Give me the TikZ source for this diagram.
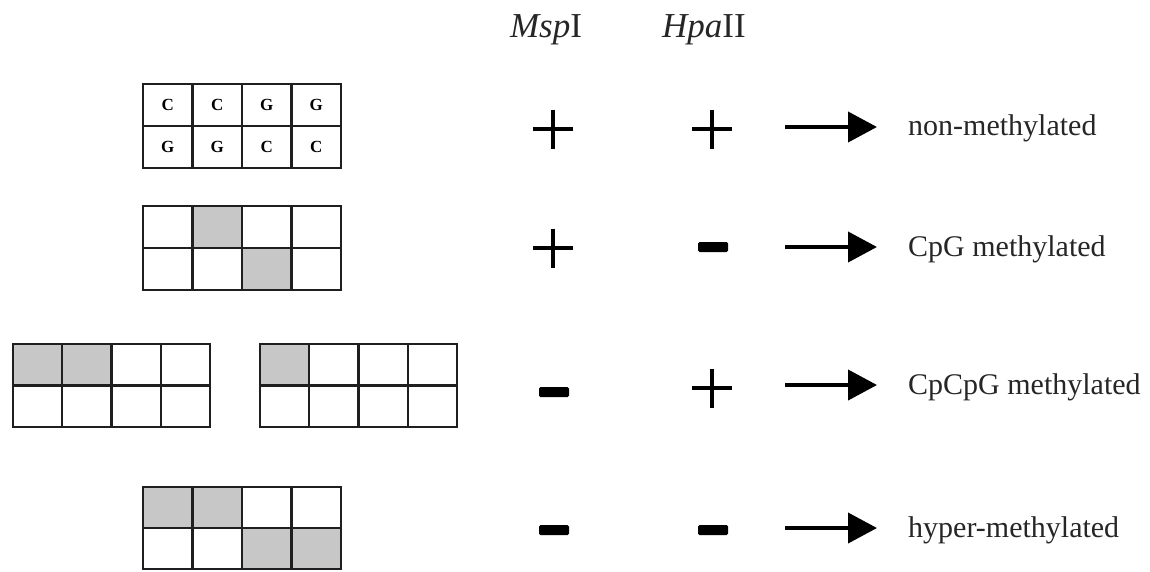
\documentclass[tikz,border=0pt]{standalone}
\usepackage{fontspec}
\setmainfont{Liberation Serif}
\usetikzlibrary{arrows.meta}
\newcommand\dnagrid[4]{% #1=x0 #2=y0 #3=width #4=height
  \draw[cellline] (#1,#2) rectangle ++(#3,#4);
  \foreach \i in {1,2,3} \draw[cellline] ({#1+\i*#3/4},#2) -- ++(0,#4);
  \draw[cellline] (#1,{#2+#4/2}) -- ++(#3,0);
}
\newcommand\plussign[2]{%
  \draw[sign] (#1-20,#2) -- (#1+20,#2);
  \draw[sign] (#1,#2-19.5) -- (#1,#2+19.5);
}
\newcommand\minussign[2]{%
  \fill[minusbar] (#1-15,#2-5) rectangle (#1+15,#2+5);
}
\begin{document}
\begin{tikzpicture}[x=1pt,y=-1pt,
  cellline/.style={line width=2.3pt, draw=black!88},
  meth/.style={fill=black!22},
  sign/.style={line width=4.8pt},
  minusbar/.style={fill=black, rounded corners=1.5pt},
  resarrow/.style={line width=4pt, -{Triangle[length=29pt,width=30pt]}},
  statelabel/.style={anchor=base west, inner sep=0pt, text=black!85, font=\fontsize{30}{36}\selectfont},
  enzyme/.style={anchor=base, inner sep=0pt, text=black!85, font=\fontsize{35}{42}\selectfont},
  nucl/.style={font=\bfseries\fontsize{17}{20}\selectfont, inner sep=0pt}
]
\useasboundingbox (0,0) rectangle (1150,571);

% headers
\node[enzyme] (msp) at (546,37) {\textit{Msp}I};
\node[enzyme] (hpa) at (704,37) {\textit{Hpa}II};

% row 1 grid with bases
\dnagrid{143}{84}{198}{84}
\node[nucl] (b11) at (167.75,105) {C};
\node[nucl] (b12) at (217.25,105) {C};
\node[nucl] (b13) at (266.75,105) {G};
\node[nucl] (b14) at (316.25,105) {G};
\node[nucl] (b21) at (167.75,147) {G};
\node[nucl] (b22) at (217.25,147) {G};
\node[nucl] (b23) at (266.75,147) {C};
\node[nucl] (b24) at (316.25,147) {C};

% row 2 grid
\fill[meth] (192.5,206) rectangle ++(49.5,42);
\fill[meth] (242,248) rectangle ++(49.5,42);
\dnagrid{143}{206}{198}{84}

% row 3 grids
\fill[meth] (13,344) rectangle ++(98.5,41.5);
\dnagrid{13}{344}{197}{83}
\fill[meth] (260,344) rectangle ++(49.25,41.5);
\dnagrid{260}{344}{197}{83}

% row 4 grid
\fill[meth] (143,487) rectangle ++(99,41);
\fill[meth] (242,528) rectangle ++(99,41);
\dnagrid{143}{487}{198}{82}

% signs
\plussign{553}{129}
\plussign{712}{129}
\plussign{553}{248}
\minussign{713}{247}
\minussign{554}{392}
\plussign{712}{388}
\minussign{554}{530}
\minussign{713}{530}

% arrows and labels
\node[statelabel] (l1) at (908,135) {non-methylated};
\node[statelabel] (l2) at (908,256) {CpG methylated};
\node[statelabel] (l3) at (908,394) {CpCpG methylated};
\node[statelabel] (l4) at (908,537) {hyper-methylated};

\coordinate (s1) at (785,127); \coordinate (e1) at (877,127);
\coordinate (s2) at (785,247); \coordinate (e2) at (877,247);
\coordinate (s3) at (785,385); \coordinate (e3) at (877,385);
\coordinate (s4) at (785,528); \coordinate (e4) at (877,528);
\draw[resarrow] (s1) -- (e1);
\draw[resarrow] (s2) -- (e2);
\draw[resarrow] (s3) -- (e3);
\draw[resarrow] (s4) -- (e4);
\end{tikzpicture}
\end{document}
